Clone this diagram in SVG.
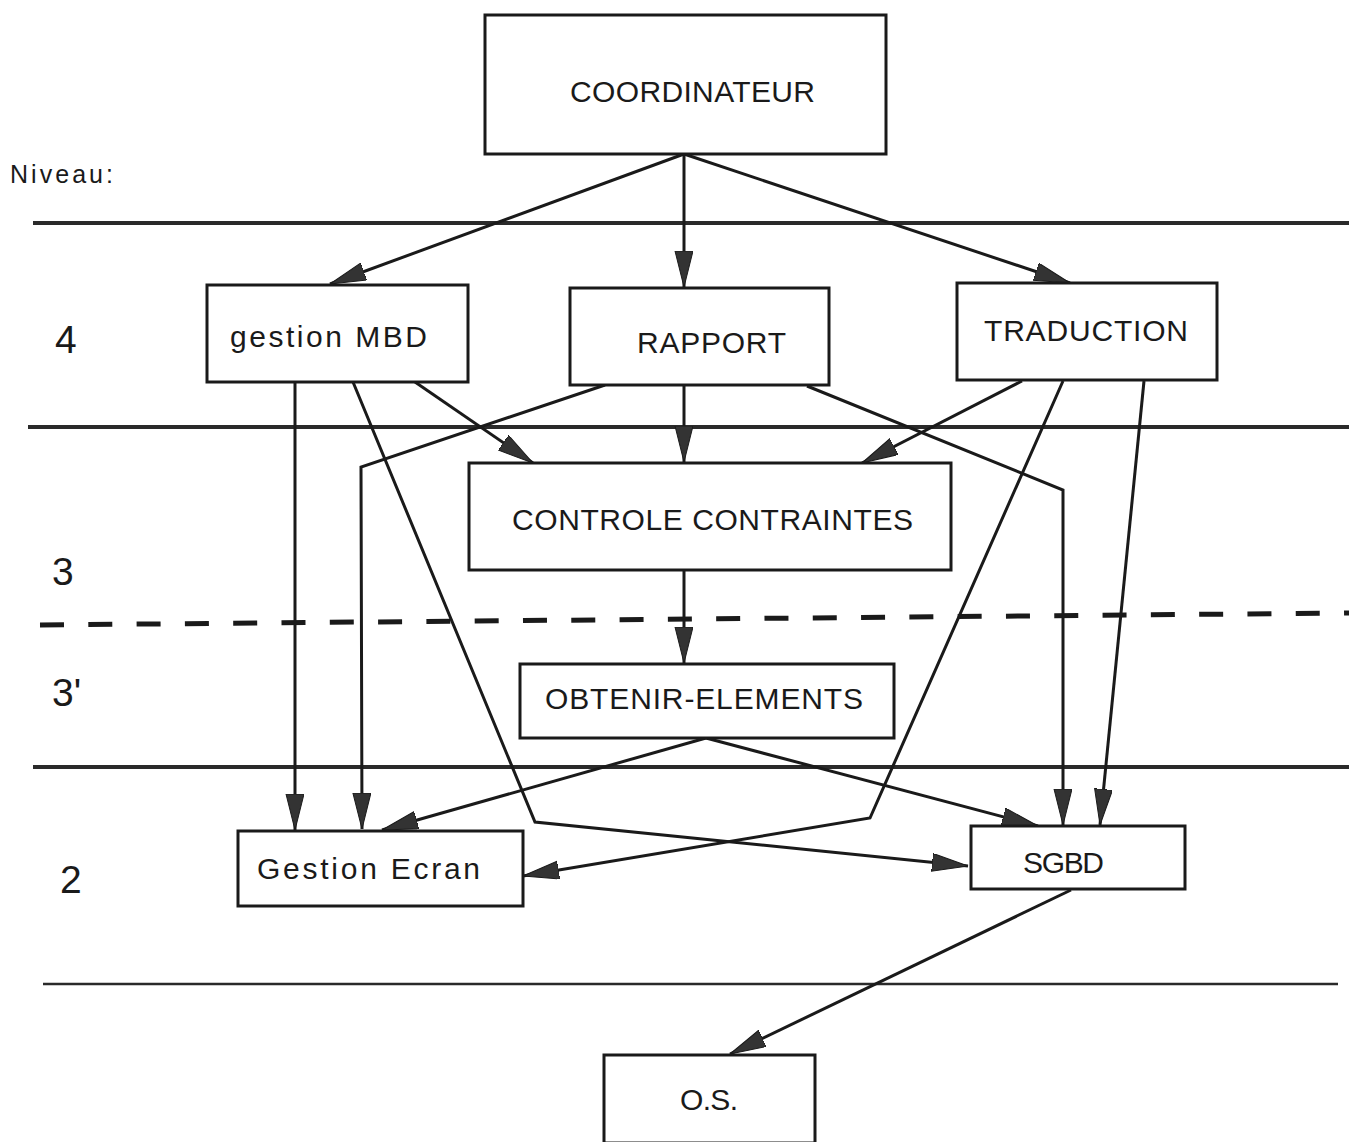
<svg xmlns="http://www.w3.org/2000/svg" width="1349" height="1142" viewBox="0 0 1349 1142">
  <style>
    .box { fill: #fff; stroke: #1a1a1a; stroke-width: 3; }
    .lbl { font-family: "Liberation Sans", Arial, sans-serif; font-size: 30px; fill: #1a1a1a; }
    .lvl { font-family: "Liberation Sans", Arial, sans-serif; font-size: 39px; fill: #1a1a1a; }
    .band { stroke: #2a2a2a; stroke-width: 4; fill: none; }
    .edge { fill: none; stroke: #1a1a1a; stroke-width: 3; marker-end: url(#head); }
  </style>
  <defs>
    <marker id="head" markerUnits="userSpaceOnUse" markerWidth="38" markerHeight="20" refX="36" refY="9" orient="auto">
      <path d="M0,0 L36,9 L0,18 Z" fill="#333" stroke="#1a1a1a" stroke-width="1"/>
    </marker>
  </defs>

  <rect width="1349" height="1142" fill="#fff"/>

  <!-- level bands -->
  <g id="levels">
    <text x="10" y="183" font-family="Liberation Sans, Arial, sans-serif" font-size="25" fill="#1a1a1a" textLength="103" lengthAdjust="spacing">Niveau:</text>
    <line class="band" x1="33" y1="223" x2="1349" y2="223"/>
    <line class="band" x1="28" y1="427" x2="1349" y2="427"/>
    <line x1="40" y1="625" x2="1349" y2="613" stroke="#1a1a1a" stroke-width="5" stroke-dasharray="24 24.3"/>
    <line class="band" x1="33" y1="767" x2="1349" y2="767"/>
    <line x1="43" y1="984" x2="1338" y2="984" stroke="#2a2a2a" stroke-width="2.5"/>
    <text class="lvl" x="55" y="353">4</text>
    <text class="lvl" x="52" y="585">3</text>
    <text class="lvl" x="52" y="706">3'</text>
    <text class="lvl" x="60" y="893">2</text>
  </g>

  <!-- connectors -->
  <g id="connectors">
    <path class="edge" d="M684,154 L330,284"/>
    <path class="edge" d="M684,154 L684,287"/>
    <path class="edge" d="M684,154 L1070,283"/>
    <path class="edge" d="M295,382 L295,830"/>
    <path class="edge" d="M605,385 L361,467 L362,829"/>
    <path class="edge" d="M353,382 L535,822 L968,866"/>
    <path class="edge" d="M415,382 L533,463"/>
    <path class="edge" d="M684,385 L684,462"/>
    <path class="edge" d="M1022,381 L862,463"/>
    <path class="edge" d="M807,386 L1063,490 L1063,825"/>
    <path class="edge" d="M1063,381 L870,818 L523,876"/>
    <path class="edge" d="M1144,381 L1100,825"/>
    <path class="edge" d="M684,570 L684,663"/>
    <path class="edge" d="M706,738 L382,830"/>
    <path class="edge" d="M706,738 L1038,826"/>
    <path class="edge" d="M1071,890 L730,1054"/>
  </g>

  <!-- nodes -->
  <g id="coordinateur">
    <rect class="box" x="485" y="15" width="401" height="139"/>
    <text class="lbl" x="570" y="102" textLength="245" lengthAdjust="spacing">COORDINATEUR</text>
  </g>
  <g id="gestion-mbd">
    <rect class="box" x="207" y="285" width="261" height="97"/>
    <text class="lbl" x="230" y="347" textLength="197" lengthAdjust="spacing">gestion MBD</text>
  </g>
  <g id="rapport">
    <rect class="box" x="570" y="288" width="259" height="97"/>
    <text class="lbl" x="637" y="353" textLength="149" lengthAdjust="spacing">RAPPORT</text>
  </g>
  <g id="traduction">
    <rect class="box" x="957" y="283" width="260" height="97"/>
    <text class="lbl" x="984" y="341" textLength="204" lengthAdjust="spacing">TRADUCTION</text>
  </g>
  <g id="controle-contraintes">
    <rect class="box" x="469" y="463" width="482" height="107"/>
    <text class="lbl" x="512" y="530" textLength="401" lengthAdjust="spacing">CONTROLE CONTRAINTES</text>
  </g>
  <g id="obtenir-elements">
    <rect class="box" x="520" y="664" width="374" height="74"/>
    <text class="lbl" x="545" y="709" textLength="318" lengthAdjust="spacing">OBTENIR-ELEMENTS</text>
  </g>
  <g id="gestion-ecran">
    <rect class="box" x="238" y="831" width="285" height="75"/>
    <text class="lbl" x="257" y="879" textLength="223" lengthAdjust="spacing">Gestion Ecran</text>
  </g>
  <g id="sgbd">
    <rect class="box" x="971" y="826" width="214" height="63"/>
    <text class="lbl" x="1023" y="873" textLength="81" lengthAdjust="spacing">SGBD</text>
  </g>
  <g id="os">
    <rect class="box" x="604" y="1055" width="211" height="88"/>
    <text class="lbl" x="680" y="1110" textLength="58" lengthAdjust="spacing">O.S.</text>
  </g>
</svg>
